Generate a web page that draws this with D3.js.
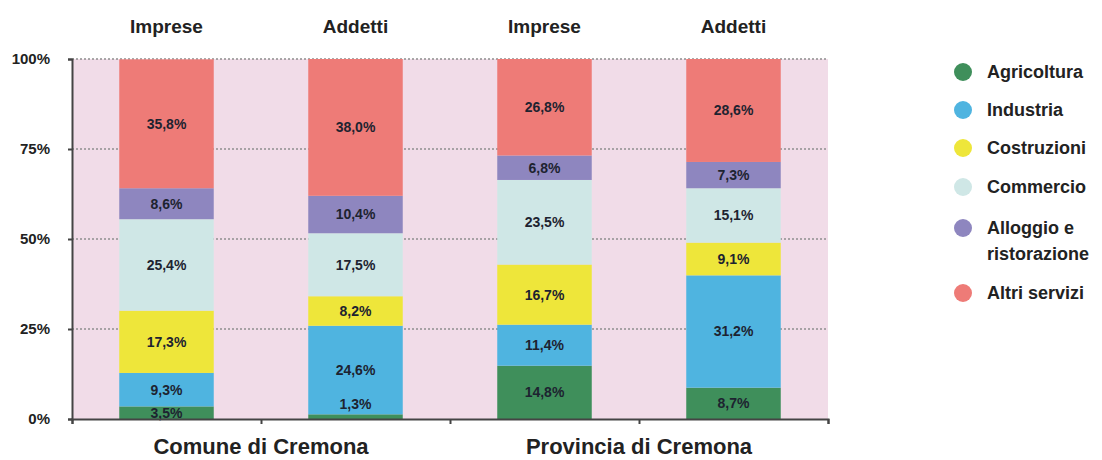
<!DOCTYPE html>
<html>
<head>
<meta charset="utf-8">
<script src="https://cdn.jsdelivr.net/npm/d3@7"></script>
<style>
  body { margin: 0; background: #fff; }
  text { font-family: "Liberation Sans", Arial, sans-serif; font-weight: bold; fill: #222; }
</style>
</head>
<body>
<div id="chart"></div>
<script>
// Data
const categories = ["Agricoltura", "Industria", "Costruzioni", "Commercio", "Alloggio e ristorazione", "Altri servizi"];
const colors = ["#3f8f5b", "#4fb4e0", "#eee63a", "#cfe7e6", "#8e86bf", "#ee7b77"];
const bars = ["Imprese", "Addetti", "Imprese", "Addetti"];
const groups = ["Comune di Cremona", "Provincia di Cremona"];
const comuneImprese = [3.5, 9.3, 17.3, 25.4, 8.6, 35.8];
const comuneAddetti = [1.3, 24.6, 8.2, 17.5, 10.4, 38.0];
const provinciaImprese = [14.8, 11.4, 16.7, 23.5, 6.8, 26.8];
const provinciaAddetti = [8.7, 31.2, 9.1, 15.1, 7.3, 28.6];
const yTicks = [0, 25, 50, 75, 100];

const series = [comuneImprese, comuneAddetti, provinciaImprese, provinciaAddetti];

const W = 1102, H = 460;
const margin = { top: 59, right: 274, bottom: 41, left: 72 };
const width = W - margin.left - margin.right;
const height = H - margin.top - margin.bottom;

const svg = d3.select("#chart").append("svg")
    .attr("width", W)
    .attr("height", H);

const g = svg.append("g")
    .attr("transform", `translate(${margin.left},${margin.top})`);

// Scales
const x = d3.scaleBand()
    .domain(d3.range(bars.length))
    .range([0, width])
    .paddingInner(0.5)
    .paddingOuter(0.25);

const y = d3.scaleLinear()
    .domain([0, 100])
    .range([height, 0]);

// Background
g.append("rect")
    .attr("x", 0).attr("y", 0)
    .attr("width", width).attr("height", height)
    .attr("fill", "#f1dce8");

// Gridlines
g.selectAll(".grid")
    .data(yTicks.filter(d => d > 0))
    .join("line")
    .attr("x1", 0).attr("x2", width)
    .attr("y1", d => y(d)).attr("y2", d => y(d))
    .attr("stroke", "#8f8f8f")
    .attr("stroke-width", 1.5)
    .attr("stroke-dasharray", "2,2");

// Stacked bars
const stacked = series.map((vals, i) => {
    let acc = 0;
    return vals.map((v, k) => {
        const d = { bar: i, cat: k, v: v, y0: acc, y1: acc + v };
        acc += v;
        return d;
    });
}).flat();

g.selectAll(".seg")
    .data(stacked)
    .join("rect")
    .attr("x", d => x(d.bar))
    .attr("width", x.bandwidth())
    .attr("y", d => y(d.y1))
    .attr("height", d => y(d.y0) - y(d.y1))
    .attr("fill", d => colors[d.cat]);

g.selectAll(".seglabel")
    .data(stacked)
    .join("text")
    .attr("x", d => x(d.bar) + x.bandwidth() / 2)
    .attr("y", d => d.v < 2 ? y(d.y1) - 10 : y((d.y0 + d.y1) / 2))
    .attr("dy", "0.35em")
    .attr("text-anchor", "middle")
    .style("font-size", "14px")
    .style("fill", "#1d2330")
    .text(d => d.v.toFixed(1).replace(".", ",") + "%");

// Y axis
const yAxis = g.append("g")
    .call(d3.axisLeft(y).tickValues(yTicks).tickFormat(d => d + "%").tickSize(4));
yAxis.select(".domain").attr("stroke", "#444").attr("stroke-width", 2);
yAxis.selectAll(".tick line").attr("stroke", "#444").attr("stroke-width", 2);
yAxis.selectAll(".tick text")
    .attr("x", -22)
    .style("font-size", "15px")
    .style("fill", "#222");

// X axis (group boundaries)
const xb = d3.scaleLinear().domain([0, 4]).range([0, width]);
const xAxis = g.append("g")
    .attr("transform", `translate(0,${height})`)
    .call(d3.axisBottom(xb).ticks(4).tickFormat("").tickSize(5));
xAxis.select(".domain").attr("stroke", "#444").attr("stroke-width", 2);
xAxis.selectAll(".tick line").attr("stroke", "#444").attr("stroke-width", 2);

// Bar labels on top
g.selectAll(".barlabel")
    .data(bars)
    .join("text")
    .attr("x", (d, i) => x(i) + x.bandwidth() / 2)
    .attr("y", -26)
    .attr("text-anchor", "middle")
    .style("font-size", "19px")
    .text(d => d);

// Group labels at the bottom
g.selectAll(".grouplabel")
    .data(groups)
    .join("text")
    .attr("x", (d, i) => xb(i * 2 + 1))
    .attr("y", height + 35)
    .attr("text-anchor", "middle")
    .style("font-size", "22px")
    .text(d => d);

// Legend
const legendY = [72, 110, 148, 187, 228, 293];
const legend = svg.append("g")
    .attr("transform", "translate(963,0)");

categories.forEach((c, i) => {
    legend.append("circle")
        .attr("cx", 0)
        .attr("cy", legendY[i])
        .attr("r", 9)
        .attr("fill", colors[i]);
    const t = legend.append("text")
        .attr("x", 24)
        .attr("y", legendY[i])
        .attr("dy", "0.35em")
        .style("font-size", "18px");
    if (c === "Alloggio e ristorazione") {
        t.append("tspan").attr("x", 24).text("Alloggio e");
        t.append("tspan").attr("x", 24).attr("dy", "1.45em").text("ristorazione");
    } else {
        t.text(c);
    }
});
</script>
</body>
</html>
